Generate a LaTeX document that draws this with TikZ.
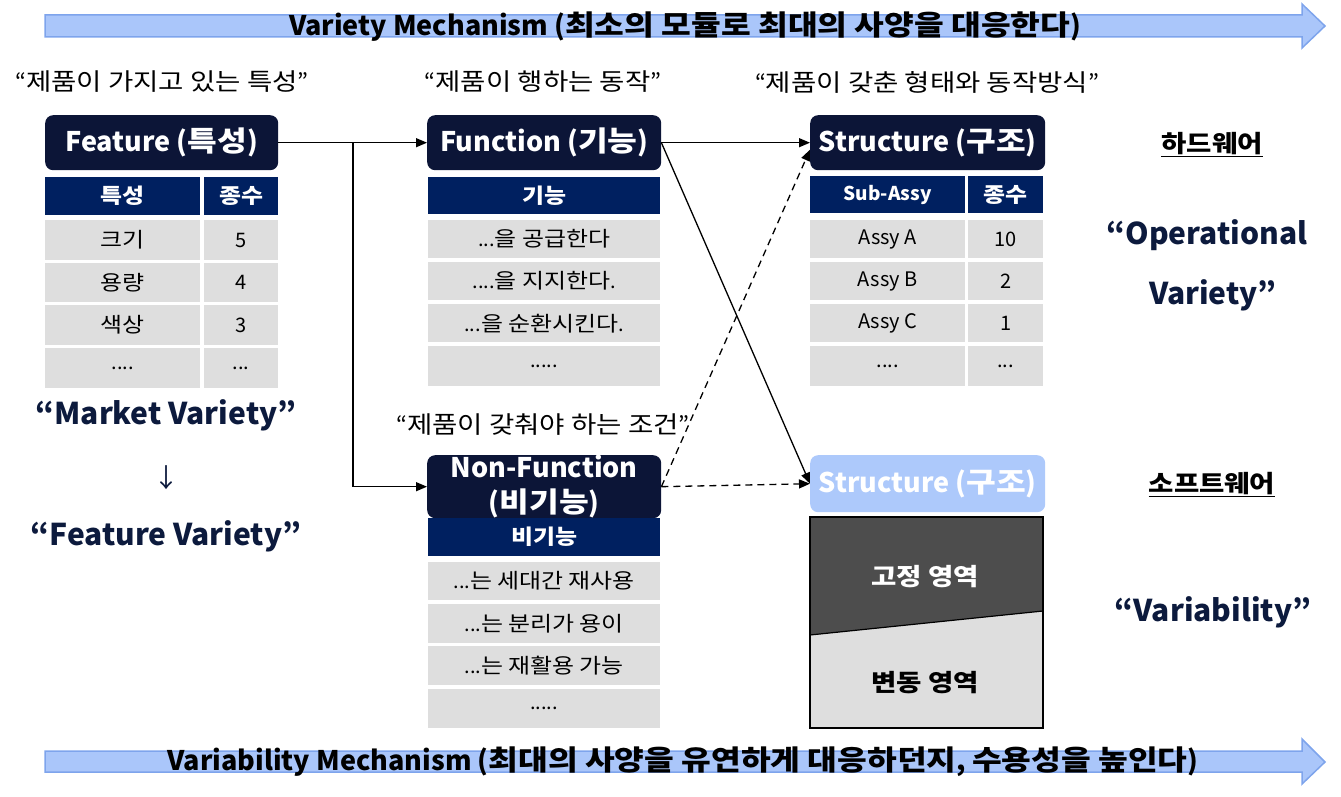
\documentclass[tikz,border=0pt]{standalone}
\usepackage{fontspec}
\setmainfont{Noto Sans CJK KR}
\newfontfamily\latfam{Noto Sans CJK KR}
\newfontfamily\krfam[FakeStretch=1.15,Scale=1.04]{Noto Sans CJK KR}
\XeTeXinterchartokenstate=1
\chardef\HangulClass=200
\newcount\hgc
\hgc="AC00
\loop\ifnum\hgc<"D7A4 \XeTeXcharclass\hgc=\HangulClass \advance\hgc by 1 \repeat
\XeTeXinterchartoks 0 \HangulClass = {\krfam}
\XeTeXinterchartoks 1 \HangulClass = {\krfam}
\XeTeXinterchartoks 2 \HangulClass = {\krfam}
\XeTeXinterchartoks 3 \HangulClass = {\krfam}
\XeTeXinterchartoks 4095 \HangulClass = {\krfam}
\XeTeXinterchartoks \HangulClass 0 = {\latfam}
\XeTeXinterchartoks \HangulClass 1 = {\latfam}
\XeTeXinterchartoks \HangulClass 2 = {\latfam}
\XeTeXinterchartoks \HangulClass 3 = {\latfam}
\usetikzlibrary{arrows.meta,calc}
\definecolor{hdnavy}{HTML}{0C1537}
\definecolor{thblue}{HTML}{002060}
\definecolor{cellgray}{HTML}{DEDEDE}
\definecolor{arrowblue}{HTML}{AAC6FA}
\definecolor{arrowedge}{HTML}{7EA4EC}
\definecolor{softblue}{HTML}{ADC9FB}
\definecolor{txtnavy}{HTML}{0C1A3D}
\definecolor{darkgray}{HTML}{4D4D4D}
\tikzset{
  hdr/.style={rounded corners=8pt, fill=hdnavy, text=white, font=\bfseries\fontsize{27}{35}\selectfont, anchor=north west, inner sep=0pt, align=center},
  th/.style={fill=thblue, text=white, font=\bfseries\fontsize{20}{24}\selectfont, anchor=north west, inner sep=0pt},
  td/.style={fill=cellgray, text=black, font=\fontsize{20}{24}\selectfont, anchor=north west, inner sep=0pt},
  quote/.style={font=\fontsize{23}{27}\selectfont, text=black, inner sep=0pt},
  big/.style={font=\bfseries\fontsize{30}{36}\selectfont, text=txtnavy, inner sep=0pt},
  hwlabel/.style={font=\bfseries\fontsize{23}{27}\selectfont, text=black, inner sep=0pt},
  conn/.style={line width=1.3pt, -{Triangle[length=11pt,width=9pt]}},
  dashconn/.style={conn, dash pattern=on 7pt off 5pt},
  bigarrow/.style={fill=arrowblue, draw=arrowedge, line width=1.5pt},
  banner/.style={font=\bfseries\fontsize{27}{30}\selectfont, text=black, inner sep=0pt},
  areatext/.style={font=\bfseries\fontsize{23}{27}\selectfont, inner sep=0pt}
}
\begin{document}
\begin{tikzpicture}[x=1pt,y=-1pt]
\useasboundingbox (0,0) rectangle (1341,797);
% top arrow
\path[bigarrow] (45,15) -- (1302,15) -- (1302,4) -- (1325,26) -- (1302,48) -- (1302,37) -- (45,37) -- cycle;
\node[banner] (topt) at (685,27) {Variety Mechanism (최소의 모듈로 최대의 사양을 대응한다)};
% bottom arrow
\path[bigarrow] (45,751) -- (1302,751) -- (1302,739) -- (1325,762) -- (1302,784) -- (1302,772) -- (45,772) -- cycle;
\node[banner] (bott) at (683,762) {Variability Mechanism (최대의 사양을 유연하게 대응하던지, 수용성을 높인다)};
% quotes
\node[quote] (q1) at (162,82) {“제품이 가지고 있는 특성”};
\node[quote] (q2) at (543,82) {“제품이 행하는 동작”};
\node[quote] (q3) at (927,82) {“제품이 갖춘 형태와 동작방식”};
\node[quote] (q4) at (543,425) {“제품이 갖춰야 하는 조건”};
% Feature
\node[hdr, minimum width=233pt, minimum height=55pt] (feat) at (45,115) {Feature (특성)};
\node[th, minimum width=155pt, minimum height=38pt] (ft1) at (45,177) {특성};
\node[th, minimum width=74pt, minimum height=38pt] (ft2) at (204,177) {종수};
\node[td, minimum width=155pt, minimum height=40pt] (fa1) at (45,220) {크기};
\node[td, minimum width=74pt, minimum height=40pt] (fb1) at (204,220) {5};
\node[td, minimum width=155pt, minimum height=39pt] (fa2) at (45,263) {용량};
\node[td, minimum width=74pt, minimum height=39pt] (fb2) at (204,263) {4};
\node[td, minimum width=155pt, minimum height=40pt] (fa3) at (45,305) {색상};
\node[td, minimum width=74pt, minimum height=40pt] (fb3) at (204,305) {3};
\node[td, minimum width=155pt, minimum height=40pt] (fa4) at (45,348) {....};
\node[td, minimum width=74pt, minimum height=40pt] (fb4) at (204,348) {...};
% left texts
\node[big] (mv) at (166,415) {“Market Variety”};
\node[big, font=\fontsize{26}{30}\selectfont] (dn) at (166,478) {↓};
\node[big] (fv) at (166,536) {“Feature Variety”};
% Function
\node[hdr, minimum width=234pt, minimum height=55pt] (func) at (427,115) {Function (기능)};
\node[th, minimum width=232pt, minimum height=37pt] (fnh) at (428,177) {기능};
\node[td, minimum width=232pt, minimum height=38pt] (fn1) at (428,220) {...을 공급한다};
\node[td, minimum width=232pt, minimum height=38pt] (fn2) at (428,262) {....을 지지한다.};
\node[td, minimum width=232pt, minimum height=38pt] (fn3) at (428,304) {...을 순환시킨다.};
\node[td, minimum width=232pt, minimum height=40pt] (fn4) at (428,346) {.....};
% Structure
\node[hdr, minimum width=235pt, minimum height=55pt] (str) at (810,115) {Structure (구조)};
\node[th, minimum width=155pt, minimum height=37pt, font=\bfseries\fontsize{19}{22}\selectfont] (sth1) at (810,176) {Sub-Assy};
\node[th, minimum width=75pt, minimum height=37pt] (sth2) at (968,176) {종수};
\node[td, minimum width=155pt, minimum height=38pt] (sa1) at (810,220) {Assy A};
\node[td, minimum width=75pt, minimum height=38pt] (sb1) at (968,220) {10};
\node[td, minimum width=155pt, minimum height=38pt] (sa2) at (810,262) {Assy B};
\node[td, minimum width=75pt, minimum height=38pt] (sb2) at (968,262) {2};
\node[td, minimum width=155pt, minimum height=38pt] (sa3) at (810,304) {Assy C};
\node[td, minimum width=75pt, minimum height=38pt] (sb3) at (968,304) {1};
\node[td, minimum width=155pt, minimum height=40pt] (sa4) at (810,346) {....};
\node[td, minimum width=75pt, minimum height=40pt] (sb4) at (968,346) {...};
% Non-Function
\node[hdr, minimum width=234pt, minimum height=58pt] (nonf) at (427,455) {Non-Function\\(비기능)};
\node[th, minimum width=232pt, minimum height=38pt] (nfh) at (428,518) {비기능};
\node[td, minimum width=232pt, minimum height=38pt] (nf1) at (428,562) {...는 세대간 재사용};
\node[td, minimum width=232pt, minimum height=39pt] (nf2) at (428,604) {...는 분리가 용이};
\node[td, minimum width=232pt, minimum height=39pt] (nf3) at (428,646) {...는 재활용 가능};
\node[td, minimum width=232pt, minimum height=39pt] (nf4) at (428,689) {.....};
% Soft structure
\node[hdr, fill=softblue, minimum width=235pt, minimum height=57pt] (soft) at (810,455) {Structure (구조)};
\fill[cellgray] (810,517) rectangle (1043,728);
\fill[darkgray] (810,517) -- (1043,517) -- (1043,611) -- (810,635) -- cycle;
\draw[line width=1.2pt] (810,635) -- (1043,611);
\draw[line width=2pt] (810,517) rectangle (1043,728);
\node[areatext, text=white] (fix) at (925,577) {고정 영역};
\node[areatext, text=black] (var) at (925,683) {변동 영역};
% right labels
\node[hwlabel] (hw) at (1212,145) {\underline{하드웨어}};
\node[big] (op1) at (1207,235) {“Operational};
\node[big] (op2) at (1213,295) {Variety”};
\node[hwlabel] (sw) at (1212,485) {\underline{소프트웨어}};
\node[big] (vb) at (1213,612) {“Variability”};
% connectors
\coordinate (br) at (353,142.5);
\draw[conn] (feat.east) -- (func.west);
\draw[conn] (br) |- (nonf.west);
\draw[conn] (func.east) -- (str.west);
\draw[conn] (func.east) -- (soft.west);
\draw[dashconn] (nonf.east) -- (soft.west);
\draw[dashconn] (nonf.east) -- ([yshift=-7pt]str.west);
\end{tikzpicture}
\end{document}
